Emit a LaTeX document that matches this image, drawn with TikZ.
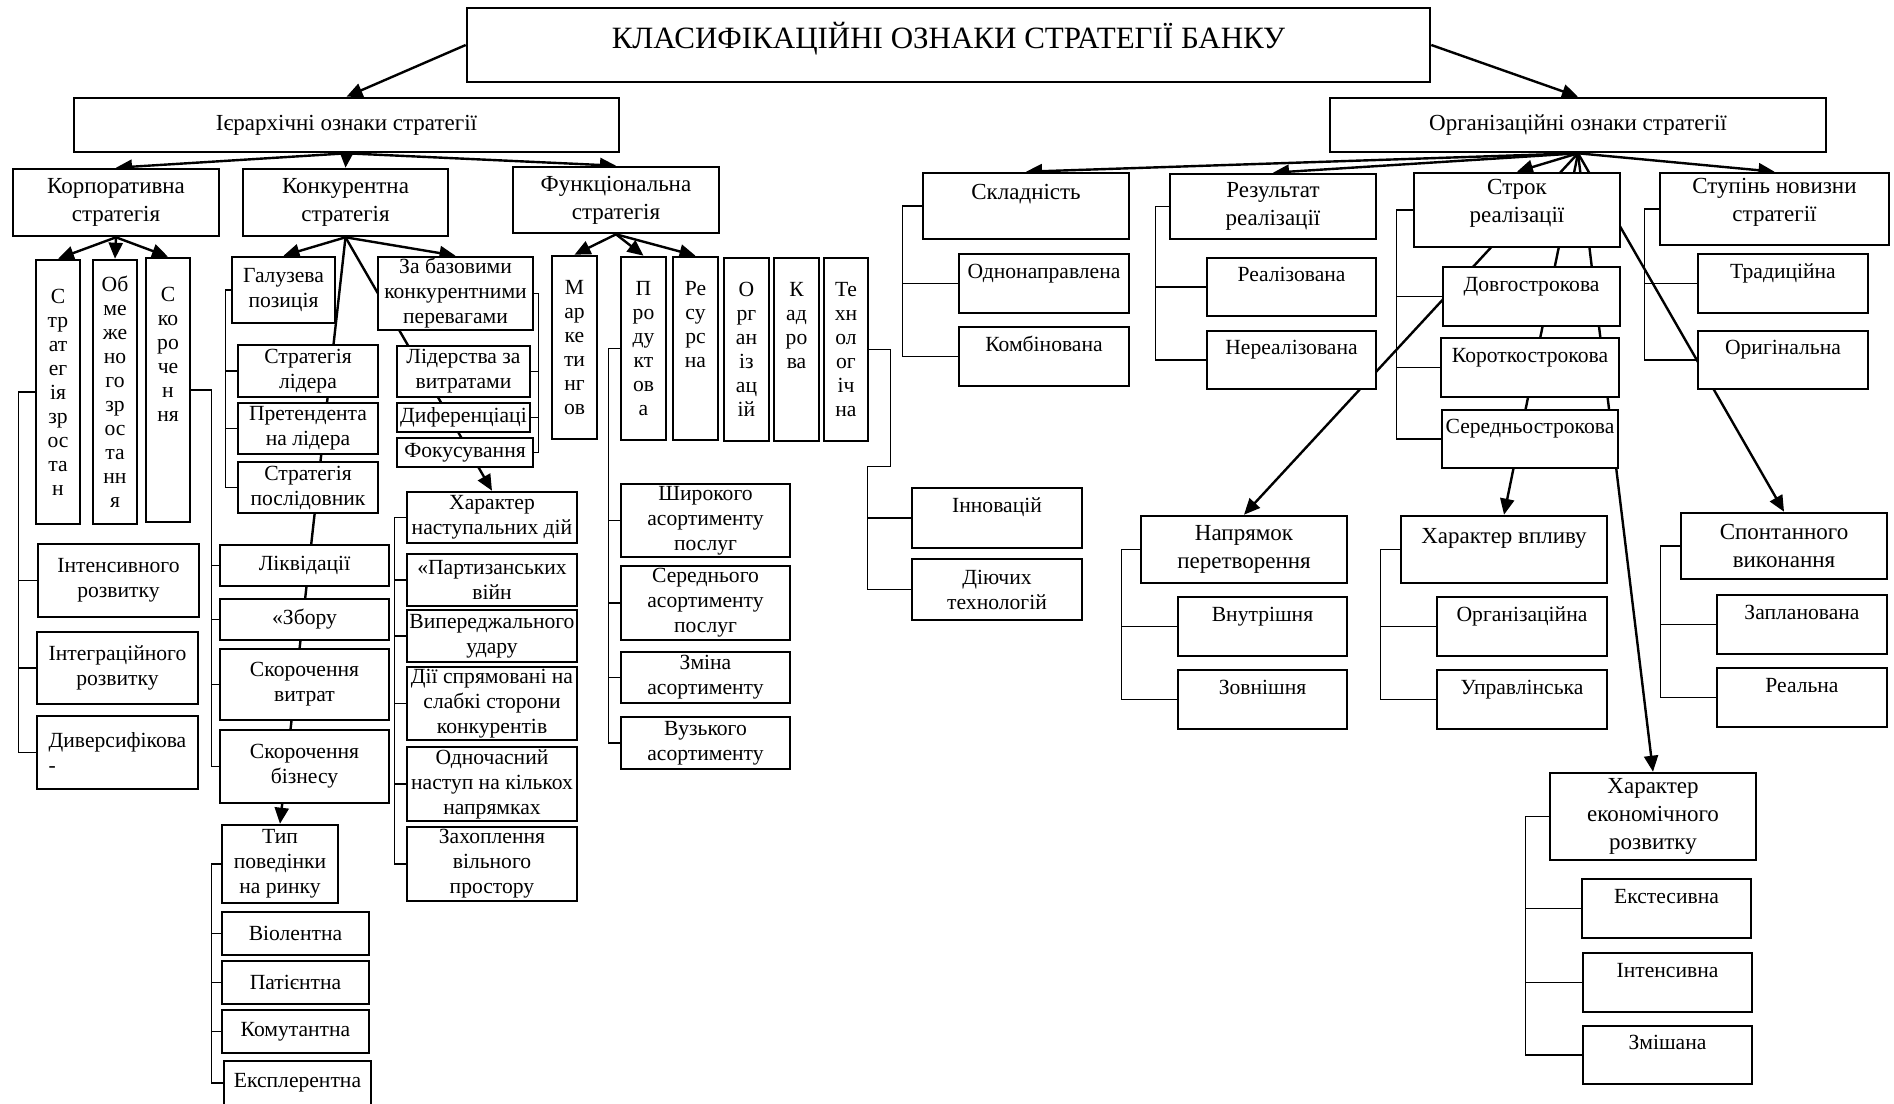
\documentclass[tikz,border=0pt]{standalone}
\usepackage{fontspec}
\setmainfont{Liberation Serif}
\usetikzlibrary{arrows.meta}
\pgfdeclarelayer{back}
\pgfsetlayers{back,main}

\begin{document}
\begin{tikzpicture}[x=0.5pt,y=-0.5pt,
    box/.style={draw,line width=1.3pt,fill=white,inner sep=0pt,align=center,
      font=\fontsize{10.8}{12.5}\selectfont},
    head/.style={box,font=\fontsize{11.5}{14}\selectfont},
    vbox/.style={box,font=\fontsize{10.8}{12}\selectfont},
    span/.style args={#1/#2/#3/#4}{at={({(#1+#3)/2},{(#2+#4)/2})},
      minimum width={(#3-#1)*0.5pt},minimum height={(#4-#2)*0.5pt}},
    arr/.style={line width=1.2pt,-{Triangle[length=8pt,width=7pt]}},
    brk/.style={line width=0.6pt}]
  \useasboundingbox (0,0) rectangle (1894,1103);

  % top levels
  \node[box,font=\fontsize{15.5}{18}\selectfont,text depth=9.5pt,span=467/8/1430/82] (title) {КЛАСИФІКАЦІЙНІ ОЗНАКИ СТРАТЕГІЇ БАНКУ};
  \node[head,span=74/98/619/152] (ier) {Ієрархічні ознаки стратегії};
  \node[head,span=1330/98/1826/152] (org) {Організаційні ознаки стратегії};

  % hierarchical branch
  \node[head,span=13/169/219/236] (korp) {Корпоративна\\стратегія};
  \node[head,span=243/169/448/236] (konk) {Конкурентна\\стратегія};
  \node[head,span=513/167/719/233] (func) {Функціональна\\стратегія};

  \node[vbox,span=36/260/80/524] (zr) {С\\тр\\ат\\ег\\ія\\зр\\ос\\та\\н};
  \node[vbox,span=93/260/137/524] (obm) {Об\\ме\\же\\но\\го\\зр\\ос\\та\\нн\\я};
  \node[vbox,span=146/258/190/522] (skor) {С\\ко\\ро\\че\\н\\ня\\~\\~\\~};
  \node[box,span=38/544/199/617] (int) {Інтенсивного\\розвитку};
  \node[box,span=37/632/198/704] (intg) {Інтеграційного\\розвитку};
  \node[box,align=left,span=37/716/198/789] (dyv) {Диверсифікова\\-};

  \node[box,span=232/257/335/323] (galuz) {Галузева\\позиція};
  \node[box,span=238/345/378/397] (lider) {Стратегія\\лідера};
  \node[box,span=238/403/378/454] (pret) {Претендента\\на лідера};
  \node[box,span=238/462/378/513] (posl) {Стратегія\\послідовник};
  \node[box,span=220/545/389/586] (likv) {Ліквідації};
  \node[box,span=220/599/389/640] (zbir) {«Збору};
  \node[box,span=220/649/389/720] (skvyt) {Скорочення\\витрат};
  \node[box,span=220/730/389/803] (skbiz) {Скорочення\\бізнесу};
  \node[box,span=222/825/338/903] (typ) {Тип\\поведінки\\на ринку};
  \node[box,span=222/912/369/955] (viol) {Віолентна};
  \node[box,span=222/961/369/1004] (pat) {Патієнтна};
  \node[box,span=222/1010/369/1053] (kom) {Комутантна};
  \node[box,span=224/1061/371/1105] (eksp) {Експлерентна};

  \node[box,span=378/257/533/330] (zabaz) {За базовими\\конкурентними\\перевагами};
  \node[box,span=397/346/530/397] (lidv) {Лідерства за\\витратами};
  \node[box,span=397/403/530/432] (dyf) {Диференціаці};
  \node[box,span=397/438/533/467] (fok) {Фокусування};
  \node[box,span=407/492/577/543] (har) {Характер\\наступальних дій};
  \node[box,span=407/554/577/606] (part) {«Партизанських\\війн};
  \node[box,span=407/610/577/662] (vyp) {Випереджального\\удару};
  \node[box,span=407/667/577/740] (diyi) {Дії спрямовані на\\слабкі сторони\\конкурентів};
  \node[box,span=407/747/577/821] (odn) {Одночасний\\наступ на кількох\\напрямках};
  \node[box,span=407/827/577/901] (zah) {Захоплення\\вільного\\простору};

  \node[vbox,span=552/256/597/439] (mark) {М\\ар\\ке\\ти\\нг\\ов};
  \node[vbox,span=621/257/666/440] (prod) {П\\ро\\ду\\кт\\ов\\а};
  \node[vbox,span=673/257/718/440] (res) {Ре\\су\\рс\\на\\~\\~};
  \node[vbox,span=724/258/769/441] (orgz) {О\\рг\\ан\\із\\ац\\ій};
  \node[vbox,span=774/258/819/441] (kadr) {К\\ад\\ро\\ва\\~\\~};
  \node[vbox,span=824/258/868/441] (tech) {Те\\хн\\ол\\ог\\іч\\на};
  \node[box,span=621/484/790/557] (shyr) {Широкого\\асортименту\\послуг};
  \node[box,span=621/566/790/640] (ser) {Середнього\\асортименту\\послуг};
  \node[box,span=621/652/790/703] (zmin) {Зміна\\асортименту};
  \node[box,span=621/717/790/769] (vuz) {Вузького\\асортименту};
  \node[box,span=912/488/1082/548] (inn) {Інновацій\\~};
  \node[box,span=912/559/1082/620] (dij) {Діючих\\технологій};

  % organisational branch
  \node[head,span=923/173/1129/239] (skl) {Складність\\~};
  \node[box,span=959/254/1129/313] (odnn) {Однонаправлена\\~};
  \node[box,span=959/327/1129/386] (komb) {Комбінована\\~};
  \node[head,span=1170/174/1376/239] (rez) {Результат\\реалізації};
  \node[box,span=1207/258/1376/316] (real) {Реалізована\\~};
  \node[box,span=1207/331/1376/389] (nereal) {Нереалізована\\~};
  \node[head,text depth=9pt,span=1414/173/1620/247] (strok) {Строк\\реалізації};
  \node[box,span=1443/267/1620/326] (dovg) {Довгострокова\\~};
  \node[box,span=1441/338/1619/397] (kor) {Короткострокова\\~};
  \node[box,span=1442/410/1618/468] (sered) {Середньострокова\\~};
  \node[head,text depth=9pt,span=1660/173/1889/245] (stup) {Ступінь новизни\\стратегії};
  \node[box,span=1698/254/1868/313] (trad) {Традиційна\\~};
  \node[box,span=1698/331/1868/389] (oryg) {Оригінальна\\~};

  \node[head,span=1141/516/1347/583] (napr) {Напрямок\\перетворення};
  \node[box,span=1178/597/1347/656] (vnut) {Внутрішня\\~};
  \node[box,span=1178/670/1347/729] (zovn) {Зовнішня\\~};
  \node[head,span=1401/516/1607/583] (hvpl) {Характер впливу\\~};
  \node[box,span=1437/597/1607/656] (orgn) {Організаційна\\~};
  \node[box,span=1437/670/1607/729] (upr) {Управлінська\\~};
  \node[head,span=1681/513/1887/579] (spont) {Спонтанного\\виконання};
  \node[box,span=1717/595/1887/654] (zapl) {Запланована\\~};
  \node[box,span=1717/668/1887/727] (realn) {Реальна\\~};
  \node[head,span=1550/773/1756/860] (her) {Характер\\економічного\\розвитку};
  \node[box,span=1582/879/1751/938] (ekst) {Екстесивна\\~};
  \node[box,span=1583/953/1752/1012] (intn) {Інтенсивна\\~};
  \node[box,span=1583/1026/1752/1084] (zmish) {Змішана\\~};

  \begin{pgfonlayer}{back}
    % arrows
    \draw[arr] (title.west) -- (ier.north);
    \draw[arr] (title.east) -- (org.north);
    \foreach \n in {korp,konk,func} \draw[arr] (ier.south) -- (\n.north);
    \foreach \n in {zr,obm,skor} \draw[arr] (korp.south) -- (\n.north);
    \foreach \n in {galuz,zabaz,typ,har} \draw[arr] (konk.south) -- (\n.north);
    \foreach \n in {mark,prod,res} \draw[arr] (func.south) -- (\n.north);
    \foreach \n in {skl,rez,strok,stup,napr,hvpl,her,spont} \draw[arr] (org.south) -- (\n.north);

    % brackets
    \draw[brk] (zr.west) -- ++(-16,0) coordinate (kz) |- (dyv.west);
    \foreach \n in {int,intg} \draw[brk] (kz |- \n.west) -- (\n.west);
    \draw[brk] (skor.east) -- ++(20,0) coordinate (ks) |- (skbiz.west);
    \foreach \n in {likv,zbir,skvyt} \draw[brk] (ks |- \n.west) -- (\n.west);
    \draw[brk] (galuz.west) -- ++(-5,0) coordinate (kg) |- (posl.west);
    \foreach \n in {lider,pret} \draw[brk] (kg |- \n.west) -- (\n.west);
    \draw[brk] (zabaz.east) -- ++(4,0) coordinate (kb) |- (fok.east);
    \foreach \n in {lidv,dyf} \draw[brk] (kb |- \n.east) -- (\n.east);
    \draw[brk] (har.west) -- ++(-11,0) coordinate (kh) |- (zah.west);
    \foreach \n in {part,vyp,diyi,odn} \draw[brk] (kh |- \n.west) -- (\n.west);
    \draw[brk] (typ.west) -- ++(-9,0) coordinate (kt) |- (eksp.west);
    \foreach \n in {viol,pat,kom} \draw[brk] (kt |- \n.west) -- (\n.west);
    \draw[brk] (prod.west) -- ++(-11,0) coordinate (kp) |- (vuz.west);
    \foreach \n in {shyr,ser,zmin} \draw[brk] (kp |- \n.west) -- (\n.west);
    \draw[brk] (tech.east) -- ++(21,0) -- ++(0,117) -- ++(-23,0) coordinate (kte) |- (dij.west);
    \draw[brk] (kte |- inn.west) -- (inn.west);

    \draw[brk] (skl.west) -- ++(-19,0) coordinate (ksk) |- (komb.west);
    \draw[brk] (ksk |- odnn.west) -- (odnn.west);
    \draw[brk] (rez.west) -- ++(-13,0) coordinate (kr) |- (nereal.west);
    \draw[brk] (kr |- real.west) -- (real.west);
    \draw[brk] (strok.west) -- ++(-16,0) coordinate (kst) |- (sered.west);
    \foreach \n in {dovg,kor} \draw[brk] (kst |- \n.west) -- (\n.west);
    \draw[brk] (stup.west) -- ++(-14,0) coordinate (ku) |- (oryg.west);
    \draw[brk] (ku |- trad.west) -- (trad.west);
    \draw[brk] (napr.west) -- ++(-18,0) coordinate (kn) |- (zovn.west);
    \draw[brk] (kn |- vnut.west) -- (vnut.west);
    \draw[brk] (hvpl.west) -- ++(-19,0) coordinate (kv) |- (upr.west);
    \draw[brk] (kv |- orgn.west) -- (orgn.west);
    \draw[brk] (spont.west) -- ++(-19,0) coordinate (ksp) |- (realn.west);
    \draw[brk] (ksp |- zapl.west) -- (zapl.west);
    \draw[brk] (her.west) -- ++(-23,0) coordinate (ke) |- (zmish.west);
    \foreach \n in {ekst,intn} \draw[brk] (ke |- \n.west) -- (\n.west);
  \end{pgfonlayer}
\end{tikzpicture}
\end{document}
